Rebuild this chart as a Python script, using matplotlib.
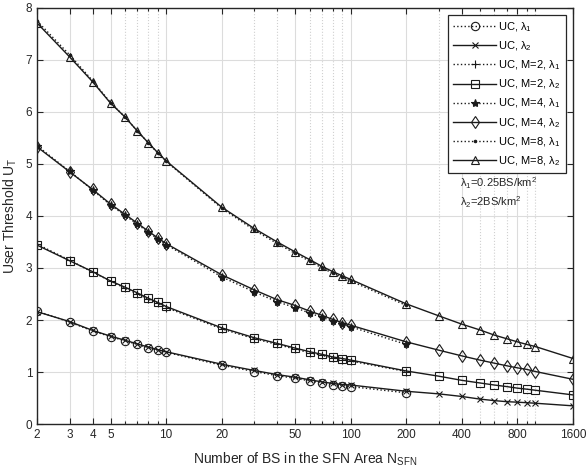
import matplotlib
matplotlib.use("Agg")
import matplotlib.pyplot as plt
from matplotlib.ticker import FixedLocator, FixedFormatter, NullFormatter

plt.rcParams['font.family'] = ['Liberation Sans', 'DejaVu Sans']
plt.rcParams['mathtext.fontset'] = 'custom'
plt.rcParams['mathtext.rm'] = 'Liberation Sans'
plt.rcParams['mathtext.it'] = 'Liberation Sans'
plt.rcParams['mathtext.default'] = 'regular'

# number of BS in the SFN area
n_lam1 = [2, 3, 4, 5, 6, 7, 8, 9, 10, 20, 30, 40, 50, 60, 70, 80, 90, 100, 200]
n_lam2 = n_lam1 + [300, 400, 500, 600, 700, 800, 900, 1000, 1600]

# user threshold values
uc_l1 = [2.17, 1.96, 1.79, 1.68, 1.60, 1.53, 1.47, 1.42, 1.38, 1.13, 1.01, 0.93, 0.88,
         0.83, 0.79, 0.76, 0.74, 0.72, 0.60]
uc_l2 = [2.16, 1.97, 1.80, 1.69, 1.61, 1.54, 1.48, 1.43, 1.39, 1.15, 1.03, 0.95, 0.90,
         0.85, 0.81, 0.78, 0.76, 0.75, 0.63, 0.58, 0.53, 0.48, 0.45, 0.43, 0.42, 0.41,
         0.40, 0.35]
m2_l1 = [3.46, 3.15, 2.92, 2.75, 2.61, 2.50, 2.40, 2.32, 2.24, 1.83, 1.64, 1.53, 1.44,
         1.37, 1.32, 1.27, 1.24, 1.21, 1.01]
m2_l2 = [3.44, 3.14, 2.93, 2.75, 2.63, 2.52, 2.42, 2.34, 2.26, 1.85, 1.66, 1.55, 1.46,
         1.39, 1.34, 1.29, 1.26, 1.23, 1.02, 0.92, 0.84, 0.79, 0.75, 0.72, 0.69, 0.67,
         0.65, 0.56]
m4_l1 = [5.35, 4.86, 4.50, 4.21, 4.01, 3.84, 3.69, 3.56, 3.45, 2.83, 2.54, 2.35, 2.24,
         2.13, 2.05, 1.98, 1.92, 1.87, 1.53]
m4_l2 = [5.33, 4.85, 4.51, 4.23, 4.03, 3.86, 3.71, 3.58, 3.47, 2.87, 2.58, 2.39, 2.28,
         2.17, 2.09, 2.01, 1.95, 1.90, 1.58, 1.42, 1.31, 1.23, 1.17, 1.12, 1.08, 1.05,
         1.01, 0.86]
m8_l1 = [7.75, 7.10, 6.60, 6.18, 5.90, 5.63, 5.41, 5.21, 5.05, 4.15, 3.73, 3.47, 3.28,
         3.13, 3.00, 2.90, 2.82, 2.75, 2.28]
m8_l2 = [7.71, 7.06, 6.58, 6.17, 5.90, 5.63, 5.41, 5.22, 5.06, 4.17, 3.76, 3.50, 3.31,
         3.16, 3.03, 2.93, 2.85, 2.78, 2.31, 2.08, 1.92, 1.81, 1.71, 1.64, 1.58, 1.53,
         1.49, 1.26]

labels = [r'UC, $\lambda_1$', r'UC, $\lambda_2$', r'UC, M=2, $\lambda_1$', r'UC, M=2, $\lambda_2$',
          r'UC, M=4, $\lambda_1$', r'UC, M=4, $\lambda_2$', r'UC, M=8, $\lambda_1$', r'UC, M=8, $\lambda_2$']

xticks = [2, 3, 4, 5, 10, 20, 50, 100, 200, 400, 800, 1600]
xminor = [6, 7, 8, 9, 30, 40, 60, 70, 80, 90, 300, 500, 600, 700, 900, 1000]

col = '#1a1a1a'
fig = plt.figure(figsize=(5.88, 4.67), dpi=100)
ax = fig.add_axes([0.063, 0.092, 0.9115, 0.891])

series = [
    (n_lam1, uc_l1, ':', 'o', 'none'),
    (n_lam2, uc_l2, '-', 'x', 'none'),
    (n_lam1, m2_l1, ':', '+', 'none'),
    (n_lam2, m2_l2, '-', 's', 'none'),
    (n_lam1, m4_l1, ':', '*', col),
    (n_lam2, m4_l2, '-', 'd', 'none'),
    (n_lam1, m8_l1, ':', '.', col),
    (n_lam2, m8_l2, '-', '^', 'none'),
]
for (xs, ys, ls, mk, fc), lab in zip(series, labels):
    ms = {'.': 3.5, 'x': 5, '+': 6}.get(mk, 6)
    ax.plot(xs, ys, linestyle=ls, marker=mk, color=col, mfc=fc, mec=col,
            markersize=ms, linewidth=1.0, markeredgewidth=0.8, label=lab)

ax.set_xscale('log')
ax.set_xlim(2, 1600)
ax.set_ylim(0, 8)
ax.xaxis.set_major_locator(FixedLocator(xticks))
ax.xaxis.set_major_formatter(FixedFormatter([str(t) for t in xticks]))
ax.xaxis.set_minor_locator(FixedLocator(xminor))
ax.xaxis.set_minor_formatter(NullFormatter())
ax.set_yticks(range(0, 9))

ax.grid(True, which='major', color='#dcdcdc', linestyle='-', linewidth=0.8)
ax.grid(True, which='minor', axis='x', color='#d0d0d0', linestyle=':', linewidth=0.8)
ax.set_axisbelow(True)

ax.tick_params(which='both', direction='in', top=True, right=True, labelsize=8.5,
               colors='#262626', length=4, width=0.8)
ax.tick_params(which='minor', length=2.5)
for s in ax.spines.values():
    s.set_color('#262626')
    s.set_linewidth(1.0)

ax.set_xlabel(r'Number of BS in the SFN Area N$_{SFN}$', fontsize=10, color='#262626', labelpad=7)
ax.set_ylabel(r'User Threshold U$_T$', fontsize=10, color='#262626', labelpad=5)

leg = ax.legend(loc='upper right', bbox_to_anchor=(0.986, 0.984), fontsize=8,
                handlelength=3.8, labelspacing=0.5, borderpad=0.5, handletextpad=0.2,
                borderaxespad=0, fancybox=False, edgecolor='#262626', framealpha=1)
leg.get_frame().set_linewidth(0.9)

ax.text(0.789, 0.579, r'$\lambda_1$=0.25BS/km$^2$', transform=ax.transAxes, fontsize=8,
        color='#262626', va='center')
ax.text(0.789, 0.534, r'$\lambda_2$=2BS/km$^2$', transform=ax.transAxes, fontsize=8,
        color='#262626', va='center')

fig.savefig('out.png', dpi=100)
